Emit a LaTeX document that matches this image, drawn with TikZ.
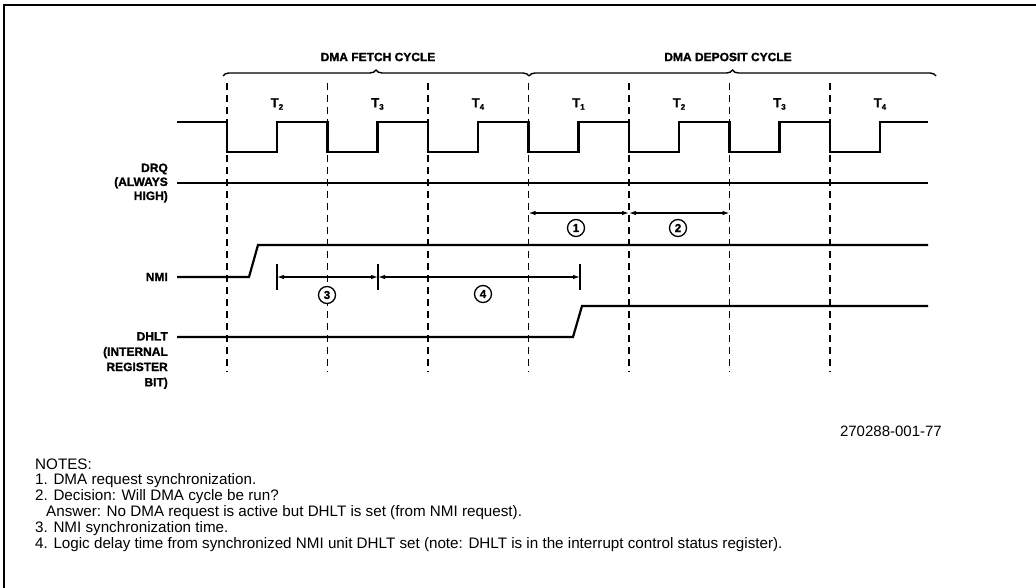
\documentclass[tikz,border=0pt]{standalone}
\usepackage{fontspec}
\setmainfont{Liberation Sans}
\newfontfamily\heavy[FakeBold=1.4]{Liberation Sans Bold}
\usetikzlibrary{arrows.meta,decorations.pathreplacing,calc}
\begin{document}
\begin{tikzpicture}[x=1pt,y=-1pt,
  sig/.style={line width=2.2pt, line join=miter},
  gridln/.style={line width=1.4pt, dash pattern=on 7pt off 5pt},
  lab/.style={font=\fontsize{12}{14}\heavy, align=right, inner sep=0pt},
  tlab/.style={font=\fontsize{13}{14}\heavy, inner sep=0pt},
  hdr/.style={font=\fontsize{12}{14}\heavy, inner sep=0pt},
  num/.style={circle, draw, line width=1.3pt, fill=white, inner sep=0pt, minimum size=17pt, font=\fontsize{11.5}{12}\heavy},
  dim/.style={line width=1.2pt, {Latex[length=7pt,width=4.5pt]}-{Latex[length=7pt,width=4.5pt]}},
  tickln/.style={line width=1.4pt},
  brc/.style={line width=1.4pt, decorate, decoration={brace, amplitude=6pt}},
  note/.style={font=\fontsize{15.2}{16}\selectfont, anchor=base west, inner sep=0pt},
]
\useasboundingbox (0,0) rectangle (1036,588);
% frame
\draw[line width=2pt] (4,588) -- (4,5) -- (1036,5);

% dashed cycle boundaries
\foreach \i in {0,...,6}
  \draw[gridln] ({227+100.5*\i},83) -- ({227+100.5*\i},372);

% braces and headers
\coordinate (bf1) at (223,76);
\coordinate (bf2) at (529,76);
\coordinate (bd2) at (936,76);
\draw[brc] (bf1) -- (bf2);
\draw[brc] (bf2) -- (bd2);
\node[hdr] (fetch) at (378,57) {DMA FETCH CYCLE};
\node[hdr] (deposit) at (728,57) {DMA DEPOSIT CYCLE};

% T labels
\foreach \t [count=\i from 0] in {2,3,4,1,2,3,4}
  \node[tlab] (t\i) at ({277+100.5*\i},104) {T\raisebox{-2.5pt}{\fontsize{8}{8}\heavy\t}};

% clock
\draw[sig] (177,122)
  \foreach \i in {0,...,6} { -- ({227+100.5*\i},122) -- ({227+100.5*\i},152)
     -- ({277+100.5*\i},152) -- ({277+100.5*\i},122) } -- (928,122);

% DRQ
\draw[sig] (177,183) -- (928,183);
\node[lab, anchor=east] (drq) at (168,183) {DRQ\\(ALWAYS\\HIGH)};

% intervals 1 and 2
\coordinate (a1) at (528.5,213);
\coordinate (a2) at (629,213);
\coordinate (a3) at (729.5,213);
\draw[dim] (a1) -- (a2);
\draw[dim] (a2) -- (a3);
\node[num] (n1) at (576,228) {1};
\node[num] (n2) at (678,228) {2};

% NMI
\draw[sig] (177,277) -- (249,277) -- (258,245) -- (928,245);
\node[lab, anchor=east] (nmi) at (168,277) {NMI};

% intervals 3 and 4
\coordinate (b1) at (277,277);
\coordinate (b2) at (378,277);
\coordinate (b3) at (580,277);
\foreach \c in {b1,b2,b3}
  \draw[tickln] ($(\c)+(0,-13)$) -- ($(\c)+(0,13)$);
\draw[dim] (b1) -- (b2);
\draw[dim] (b2) -- (b3);
\node[num] (n3) at (327,295) {3};
\node[num] (n4) at (483,294) {4};

% DHLT
\draw[sig] (177,337) -- (573,337) -- (582,306) -- (928,306);
\node[lab, anchor=north east, font=\fontsize{12}{15.3}\heavy] (dhlt) at (168,332) {DHLT\\(INTERNAL\\REGISTER\\BIT)};

% figure number
\node[font=\fontsize{15}{16}\selectfont, anchor=east, inner sep=0pt] (ref) at (942,431) {270288-001-77};

% notes
\node[note] (l0) at (35,469) {NOTES:};
\node[note] (l1) at (35,484.8) {1. DMA request synchronization.};
\node[note] (l2) at (35,500.6) {2. Decision: Will DMA cycle be run?};
\node[note] (l3) at (46,516.4) {Answer: No DMA request is active but DHLT is set (from NMI request).};
\node[note] (l4) at (35,532.2) {3. NMI synchronization time.};
\node[note] (l5) at (35,548) {4. Logic delay time from synchronized NMI unit DHLT set (note: DHLT is in the interrupt control status register).};
\end{tikzpicture}
\end{document}
